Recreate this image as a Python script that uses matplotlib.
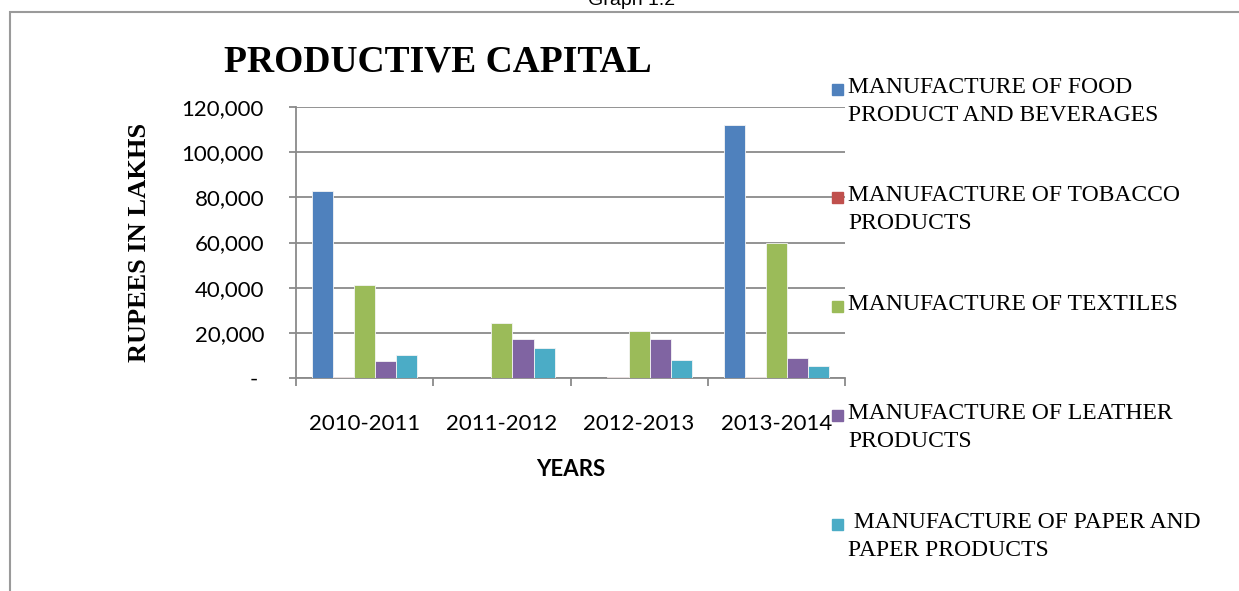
import numpy as np
import matplotlib
matplotlib.use('Agg')
import matplotlib.pyplot as plt
from matplotlib.patches import Rectangle
from matplotlib.ticker import FuncFormatter, FixedLocator

years = ['2010-2011', '2011-2012', '2012-2013', '2013-2014']
series = ['MANUFACTURE OF FOOD\nPRODUCT AND BEVERAGES',
          'MANUFACTURE OF TOBACCO\nPRODUCTS',
          'MANUFACTURE OF TEXTILES',
          'MANUFACTURE OF LEATHER\nPRODUCTS',
          ' MANUFACTURE OF PAPER AND\nPAPER PRODUCTS']
food = [83000, 0, 0, 112000]
tobacco = [600, 0, 500, 600]
textiles = [41400, 24400, 20600, 60000]
leather = [7500, 17300, 17300, 9000]
paper = [10200, 13500, 8100, 5300]
values = [food, tobacco, textiles, leather, paper]
colors = ['#4F81BD', '#C0504D', '#9BBB59', '#8064A2', '#4BACC6']

W, H = 1239, 591
fig = plt.figure(figsize=(W / 100, H / 100), dpi=100)


def px(x0, y0, x1, y1):
    # pixel box (top-left origin) -> figure fraction rect
    return [x0 / W, 1 - y1 / H, (x1 - x0) / W, (y1 - y0) / H]


ax = fig.add_axes(px(296, 107, 845, 378))

n = len(values)
w = 1 / 6.5
x = np.arange(len(years))
for i, (vals, c) in enumerate(zip(values, colors)):
    ax.bar(x + (i - (n - 1) / 2) * w, vals, width=w, color=c,
           edgecolor='#f4f4f4', linewidth=0.6, zorder=3)

grey = '#8a8a8a'
ax.set_ylim(0, 120000)
ax.set_xlim(-0.5, len(years) - 0.5)
ax.set_yticks(np.arange(0, 120001, 20000))
ax.yaxis.set_major_formatter(FuncFormatter(lambda v, p: '- ' if v == 0 else f'{int(v):,}'))
ax.grid(axis='y', color=grey, linewidth=1.3, zorder=0)
ax.set_axisbelow(True)
for s in ['top', 'right']:
    ax.spines[s].set_visible(False)
for s in ['left', 'bottom']:
    ax.spines[s].set_color(grey)
    ax.spines[s].set_linewidth(1.3)

ax.set_xticks(x)
ax.set_xticklabels(years)
ax.xaxis.set_minor_locator(FixedLocator(np.arange(-0.5, len(years), 1)))
ax.tick_params(axis='x', which='major', length=0, pad=26)
ax.tick_params(axis='x', which='minor', length=6, width=1.3, color=grey)
ax.tick_params(axis='y', length=5, width=1.3, color=grey, pad=18)
for lab in ax.get_xticklabels() + ax.get_yticklabels():
    lab.set_fontfamily('Lato')
    lab.set_fontsize(16)

ax.set_xlabel('YEARS', fontfamily='Lato', fontweight='bold', fontsize=16, labelpad=18)
ax.set_ylabel('RUPEES IN LAKHS', fontfamily='Liberation Serif', fontweight='bold',
              fontsize=19, labelpad=22)

fig.text(438 / W, 1 - 62 / H, 'PRODUCTIVE CAPITAL', fontfamily='Liberation Serif',
         fontweight='bold', fontsize=27, ha='center', va='center')

# legend, drawn by hand so markers sit on the first line
leg_y = [89, 197, 306, 415, 524]
for lab, c, yy in zip(series, colors, leg_y):
    fig.patches.append(Rectangle((832 / W, 1 - (yy + 5.5) / H), 11 / W, 11 / H,
                                 transform=fig.transFigure, color=c))
    fig.text(848 / W, 1 - (yy - 12) / H, lab, fontfamily='Liberation Serif',
             fontsize=17, ha='left', va='top', linespacing=1.45)

# outer frame and caption cut off at the top
fig.patches.append(Rectangle((10 / W, -0.1), 1.2, 1 - 12 / H + 0.1,
                             transform=fig.transFigure, fill=False,
                             edgecolor='#9a9a9a', linewidth=1.5))
fig.text(632 / W, 1 - 9 / H, 'Graph 1.2', fontfamily='Liberation Sans', fontsize=14,
         ha='center', va='bottom')

fig.savefig('out.png', dpi=100)
